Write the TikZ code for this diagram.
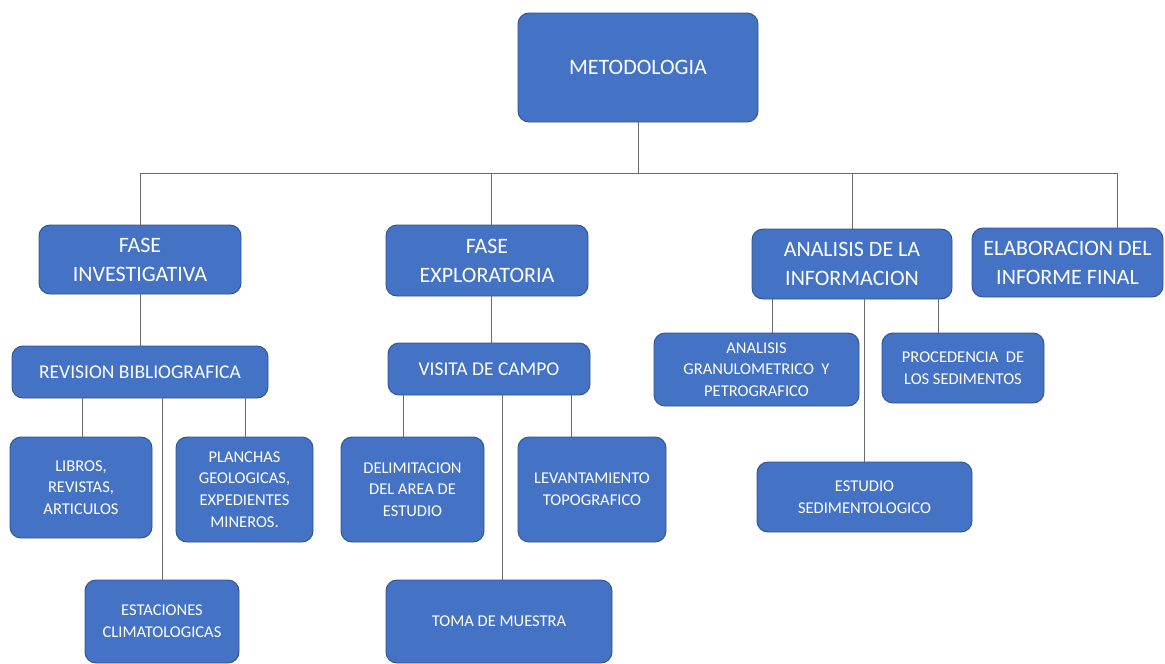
\documentclass[tikz,border=0pt]{standalone}
\usepackage{fontspec}
\setmainfont{Carlito}
\definecolor{boxfill}{HTML}{4472C4}
\definecolor{boxline}{HTML}{2F528F}
\definecolor{conncol}{HTML}{6A6A6A}
\tikzset{
  box/.style={draw=boxline, line width=0.9pt, fill=boxfill, rounded corners=11pt,
    text=white, align=center, inner sep=0pt},
  big/.style={font=\fontsize{22}{29}\selectfont},
  mid/.style={font=\fontsize{19.5}{26}\selectfont},
  small/.style={font=\fontsize{16.5}{21.7}\selectfont},
  conn/.style={draw=conncol, line width=1pt},
}
\begin{document}
\begin{tikzpicture}[x=1pt,y=-1pt]
\useasboundingbox (0,0) rectangle (1165,664);
% nodes
\node[box,big,minimum width=240,minimum height=109] (meto) at (638,67.5) {METODOLOGIA};
\node[box,big,minimum width=202,minimum height=69] (fi) at (140,259.5) {FASE\\INVESTIGATIVA};
\node[box,mid,minimum width=256,minimum height=52] (rb) at (140,372) {REVISION BIBLIOGRAFICA};
\node[box,small,minimum width=142,minimum height=101] (lib) at (81,487.5) {LIBROS,\\REVISTAS,\\ARTICULOS};
\node[box,small,minimum width=137,minimum height=105] (pla) at (244.5,489.5) {PLANCHAS\\GEOLOGICAS,\\EXPEDIENTES\\MINEROS.};
\node[box,small,minimum width=154,minimum height=83] (est) at (162,621.5) {ESTACIONES\\CLIMATOLOGICAS};
\node[box,big,minimum width=202,minimum height=71] (fe) at (487,260.5) {FASE\\EXPLORATORIA};
\node[box,mid,minimum width=202,minimum height=52] (vc) at (489,369) {VISITA DE CAMPO};
\node[box,small,minimum width=143,minimum height=105] (del) at (412.5,489.5) {DELIMITACION\\DEL AREA DE\\ESTUDIO};
\node[box,small,minimum width=148,minimum height=105] (lev) at (592,489.5) {LEVANTAMIENTO\\TOPOGRAFICO};
\node[box,small,minimum width=226,minimum height=83] (toma) at (499,621.5) {TOMA DE MUESTRA};
\node[box,big,minimum width=200,minimum height=70] (ai) at (852,264) {ANALISIS DE LA\\INFORMACION};
\node[box,big,minimum width=191,minimum height=69] (ela) at (1067.5,262.5) {ELABORACION DEL\\INFORME FINAL};
\node[box,small,minimum width=205,minimum height=73] (gran) at (756.5,369.5) {ANALISIS\\GRANULOMETRICO\ \ Y\\PETROGRAFICO};
\node[box,small,minimum width=162,minimum height=70] (proc) at (963,368) {PROCEDENCIA\ \ DE\\LOS SEDIMENTOS};
\node[box,small,minimum width=215,minimum height=70] (estu) at (864.5,497) {ESTUDIO\\SEDIMENTOLOGICO};
% bus
\coordinate (bus) at (638,173);
\coordinate (busL) at (140,173);
\coordinate (busR) at (1117,173);
\draw[conn] (busL) -- (busR);
\draw[conn] (meto.south) -- (meto.south |- bus);
\draw[conn] (fi.north) -- (fi.north |- bus);
\draw[conn] ([xshift=4]fe.north) -- ([xshift=4]fe.north |- bus);
\draw[conn] (ai.north) -- (ai.north |- bus);
\draw[conn] ([xshift=49.5]ela.north) -- ([xshift=49.5]ela.north |- bus);
% investigativa
\draw[conn] (fi.south) -- (rb.north);
\draw[conn] ([xshift=1]lib.north) -- ([xshift=1]lib.north |- rb.south);
\draw[conn] (est.north) -- (est.north |- rb.south);
\draw[conn] ([xshift=0.5]pla.north) -- ([xshift=0.5]pla.north |- rb.south);
% exploratoria
\draw[conn] ([xshift=4]fe.south) -- ([xshift=4]fe.south |- vc.north);
\draw[conn] ([xshift=-9.5]del.north) -- ([xshift=-9.5]del.north |- vc.south);
\draw[conn] ([xshift=3]toma.north) -- ([xshift=3]toma.north |- vc.south);
\draw[conn] ([xshift=-21]lev.north) -- ([xshift=-21]lev.north |- vc.south);
% analisis
\draw[conn] ([xshift=15.5]gran.north) -- ([xshift=15.5]gran.north |- ai.south);
\draw[conn] ([xshift=-0.5]estu.north) -- ([xshift=-0.5]estu.north |- ai.south);
\draw[conn] ([xshift=-25]proc.north) -- ([xshift=-25]proc.north |- ai.south);
\end{tikzpicture}
\end{document}
